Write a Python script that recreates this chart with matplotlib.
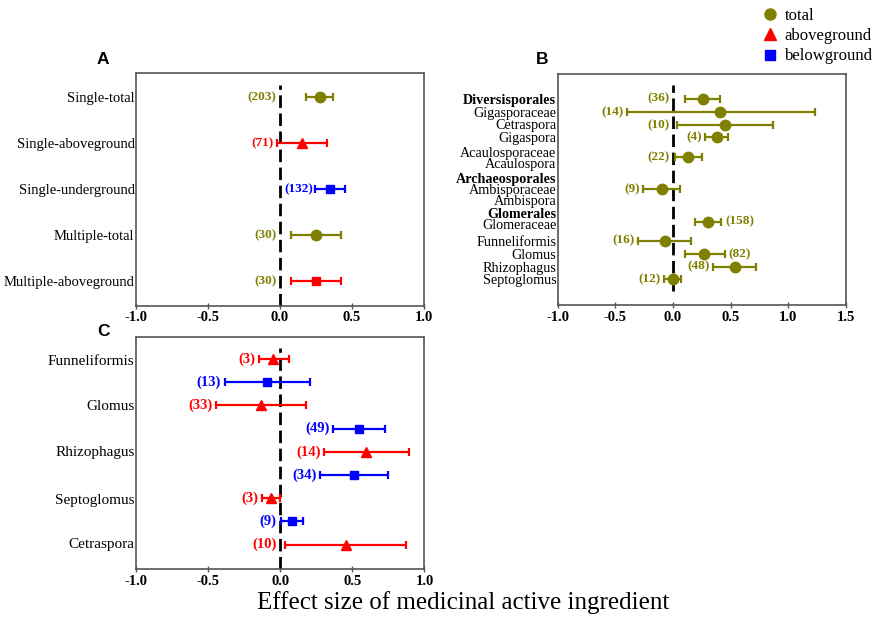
import matplotlib
matplotlib.use('Agg')
from matplotlib import pyplot as plt
from matplotlib.lines import Line2D

plt.rcParams['font.family'] = 'Liberation Serif'
plt.rcParams['axes.unicode_minus'] = False

# Panel A: single vs multiple inoculation
a_labels = ['Single-total', 'Single-aboveground', 'Single-underground',
            'Multiple-total', 'Multiple-aboveground']
a_mean = [0.28, 0.155, 0.345, 0.25, 0.25]
a_lo = [0.18, -0.02, 0.24, 0.075, 0.075]
a_hi = [0.37, 0.33, 0.45, 0.425, 0.425]
a_n = [203, 71, 132, 30, 30]
a_group = ['total', 'aboveground', 'belowground', 'total', 'aboveground']

# Panel B: AMF taxa (total)
b_labels = ['Diversisporales', 'Gigasporaceae', 'Cetraspora', 'Gigaspora',
            'Acaulosporaceae', 'Acaulospora', 'Archaeosporales', 'Ambisporaceae',
            'Ambispora', 'Glomerales', 'Glomeraceae', 'Funneliformis', 'Glomus',
            'Rhizophagus', 'Septoglomus']
b_label_row = [0, 1.07, 2.06, 3.06, 4.27, 5.16, 6.4, 7.28, 8.19, 9.25, 10.1,
               11.5, 12.55, 13.55, 14.52]
b_bold = ['Diversisporales', 'Archaeosporales', 'Glomerales']
b_row = [0, 1.07, 2.12, 3.12, 4.73, 7.31, 9.92, 11.45, 12.55, 13.55, 14.57]
b_mean = [0.26, 0.41, 0.45, 0.38, 0.13, -0.095, 0.30, -0.07, 0.27, 0.533, 0.0]
b_lo = [0.107, -0.395, 0.037, 0.28, 0.014, -0.26, 0.19, -0.30, 0.107, 0.35, -0.08]
b_hi = [0.41, 1.233, 0.865, 0.48, 0.25, 0.063, 0.42, 0.153, 0.447, 0.715, 0.072]
b_n = [36, 14, 10, 4, 22, 9, 158, 16, 82, 48, 12]

# Panel C: genera, above vs belowground
c_labels = ['Funneliformis', 'Glomus', 'Rhizophagus', 'Septoglomus', 'Cetraspora']
c_label_row = [0.05, 2, 3.95, 6.05, 7.95]
c_mean = [-0.05, -0.093, -0.13, 0.547, 0.596, 0.512, -0.065, 0.082, 0.456]
c_lo = [-0.15, -0.385, -0.444, 0.367, 0.304, 0.278, -0.124, 0.005, 0.035]
c_hi = [0.06, 0.203, 0.18, 0.729, 0.892, 0.745, 0.0, 0.161, 0.874]
c_n = [3, 13, 33, 49, 14, 34, 3, 9, 10]
c_group = ['aboveground', 'belowground', 'aboveground', 'belowground', 'aboveground',
           'belowground', 'aboveground', 'belowground', 'aboveground']

OLIVE = '#808000'
col = {'total': OLIVE, 'aboveground': '#ff0000', 'belowground': '#0000ff'}
mk = {'total': 'o', 'aboveground': '^', 'belowground': 's'}
ms = {'o': 7.5, '^': 7.8, 's': 6.4}
SPINE = '#555555'


def forest(ax, y, mean, lo, hi, n, groups, sides, markers=None, ncolors=None, nsize=9.5):
    for i in range(len(y)):
        c = col[groups[i]]
        m = markers[i] if markers else mk[groups[i]]
        ax.errorbar(mean[i], y[i], xerr=[[mean[i] - lo[i]], [hi[i] - mean[i]]],
                    fmt=m, color=c, ms=ms[m], elinewidth=1.6, capsize=3, capthick=1.6,
                    zorder=3)
        # where the (n) label goes
        s = sides[i]
        if s == 'R':
            x, dx, ha = hi[i], 3, 'left'
        elif s == 'Z':
            x, dx, ha = 0, 3, 'left'
        elif s == 'lo':
            x, dx, ha = lo[i], -2.5, 'right'
        else:
            x, dx, ha = min(lo[i], 0), -2.5, 'right'
        nc = ncolors[i] if ncolors else c
        ax.annotate('(%d)' % n[i], xy=(x, y[i]), xytext=(dx, 0), textcoords='offset points',
                    ha=ha, va='center', color=nc, fontweight='bold', fontsize=nsize, zorder=4)


def setup(ax, xlim, xticks, ylim, vspan):
    ax.set_xlim(xlim)
    ax.set_ylim(ylim)
    ax.set_xticks(xticks)
    ax.set_xticklabels(['%.1f' % t for t in xticks], fontweight='bold', fontsize=10.5)
    for s in ax.spines.values():
        s.set_color(SPINE)
        s.set_linewidth(1.2)
    ax.tick_params(axis='y', length=0, pad=1)
    ax.tick_params(axis='x', direction='inout', length=4, width=1, color=SPINE, pad=2)
    ax.axvline(0, ymin=vspan[0], ymax=vspan[1], color='k', lw=2, dashes=(4.5, 2), zorder=2)


fig = plt.figure(figsize=(8.75, 6.19), dpi=100)

# Panel A
axA = fig.add_axes([0.1554, 0.5061, 0.3291, 0.3765])
setup(axA, (-1, 1), [-1.0, -0.5, 0.0, 0.5, 1.0], (4.53, -0.53), (0, 0.947))
a_rows = list(range(len(a_labels)))
forest(axA, a_rows, a_mean, a_lo, a_hi, a_n, a_group, ['L', 'L', 'Z', 'L', 'L'],
       markers=['o', '^', 's', 'o', 's'],
       ncolors=[OLIVE, '#ff0000', '#0000ff', OLIVE, OLIVE])
axA.set_yticks(a_rows)
axA.set_yticklabels(a_labels, fontsize=10.5)

# Panel B
axB = fig.add_axes([0.6374, 0.5073, 0.3295, 0.3732])
setup(axB, (-1, 1.5), [-1.0, -0.5, 0.0, 0.5, 1.0, 1.5], (16.64, -1.99), (0.06, 0.952))
forest(axB, b_row, b_mean, b_lo, b_hi, b_n, ['total'] * len(b_row),
       ['L', 'L', 'L', 'lo', 'L', 'L', 'R', 'L', 'R', 'lo', 'L'], nsize=9.5)
axB.set_yticks(b_label_row)
axB.set_yticklabels(b_labels, fontsize=10.2)
for t in axB.get_yticklabels():
    if t.get_text() in b_bold:
        t.set_fontweight('bold')

# Panel C
axC = fig.add_axes([0.1554, 0.0808, 0.3297, 0.3753])
setup(axC, (-1, 1), [-1.0, -0.5, 0.0, 0.5, 1.0], (9.05, -0.96), (0, 0.95))
c_rows = list(range(len(c_n)))
forest(axC, c_rows, c_mean, c_lo, c_hi, c_n, c_group,
       ['L', 'L', 'L', 'lo', 'lo', 'lo', 'L', 'L', 'L'], nsize=10.5)
axC.set_yticks(c_label_row)
axC.set_yticklabels(c_labels, fontsize=11)

# Panel letters
for lab, (x, y) in zip(['A', 'B', 'C'], [(103, 60), (542, 60), (103, 332)]):
    fig.text(x / 875, 1 - y / 619, lab, family='Liberation Sans', fontweight='bold',
             fontsize=12.5, ha='center', va='center')

# Legend
handles = [Line2D([], [], ls='', marker='o', color=OLIVE, ms=8),
           Line2D([], [], ls='', marker='^', color='#ff0000', ms=8),
           Line2D([], [], ls='', marker='s', color='#0000ff', ms=6.5)]
fig.legend(handles, ['total', 'aboveground', 'belowground'], loc='upper left',
           bbox_to_anchor=(763 / 875, 1 - 8 / 619), frameon=False, fontsize=12,
           handlelength=0.8, handletextpad=0.5, labelspacing=0.25, borderpad=0,
           borderaxespad=0)

fig.text(463 / 875, 1 - 603 / 619, 'Effect size of medicinal active ingredient',
         fontsize=18, ha='center', va='center')

plt.savefig('out.png', dpi=100)
